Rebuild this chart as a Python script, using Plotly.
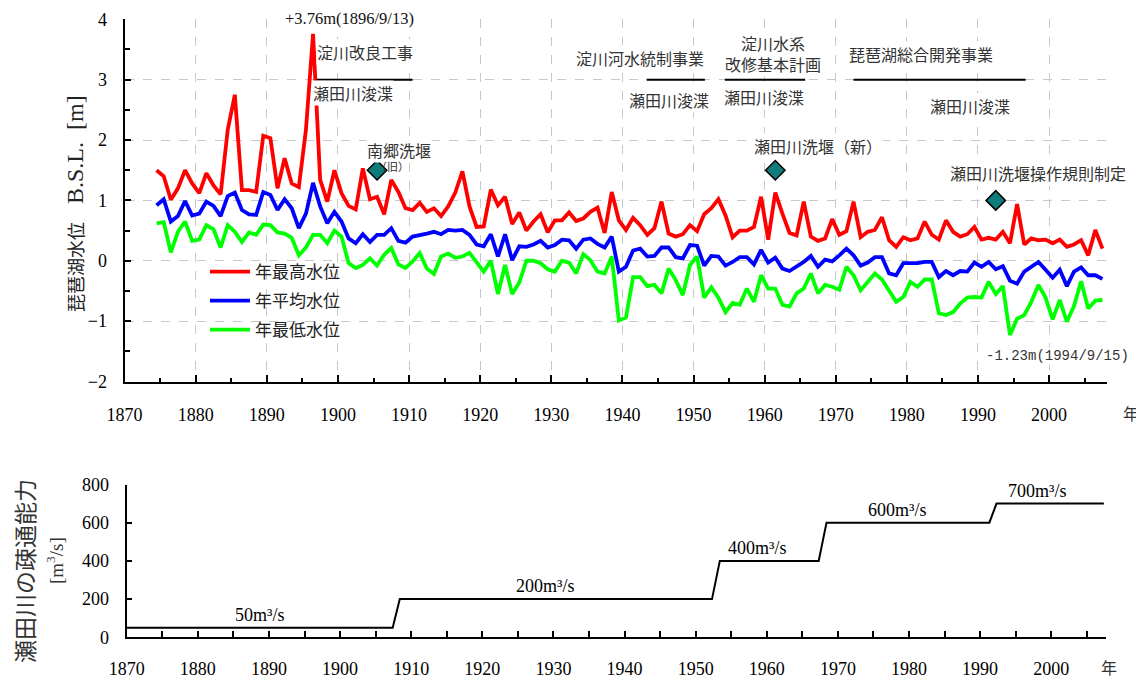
import plotly.graph_objects as go

W, H = 1144, 677
OFF = 8                      # body margin of the html page
FW, FH = W - OFF, H - OFF

# ---- data ----
years = list(range(1874, 2008))

high = [1.50, 1.40, 1.01, 1.20, 1.50, 1.28, 1.12, 1.45, 1.25, 1.10,
        2.17, 2.75, 1.17, 1.17, 1.14, 2.07, 2.03, 1.20, 1.70, 1.28,
        1.22, 2.17, 3.76, 1.34, 0.98, 1.50, 1.12, 0.91, 0.85, 1.53,
        1.02, 1.06, 0.77, 1.34, 1.14, 0.87, 0.84, 0.96, 0.81, 0.87,
        0.74, 0.90, 1.13, 1.48, 0.90, 0.56, 0.57, 1.18, 0.92, 1.06,
        0.61, 0.80, 0.50, 0.65, 0.77, 0.47, 0.67, 0.67, 0.80, 0.66,
        0.70, 0.81, 0.88, 0.46, 1.14, 0.67, 0.51, 0.71, 0.59, 0.43,
        0.54, 0.98, 0.45, 0.40, 0.44, 0.59, 0.49, 0.77, 0.87, 1.02,
        0.75, 0.39, 0.50, 0.50, 0.56, 1.06, 0.35, 1.13, 0.78, 0.46,
        0.42, 0.98, 0.40, 0.33, 0.37, 0.69, 0.43, 0.49, 0.98, 0.39,
        0.48, 0.51, 0.72, 0.34, 0.23, 0.39, 0.34, 0.37, 0.65, 0.43,
        0.35, 0.67, 0.48, 0.40, 0.44, 0.56, 0.35, 0.38, 0.35, 0.48,
        0.29, 0.94, 0.27, 0.37, 0.34, 0.35, 0.29, 0.35, 0.23, 0.27,
        0.34, 0.09, 0.51, 0.20]

mean = [0.92, 1.02, 0.65, 0.74, 0.99, 0.75, 0.78, 0.98, 0.91, 0.74,
        1.07, 1.13, 0.84, 0.77, 0.76, 1.14, 1.09, 0.84, 1.02, 0.87,
        0.54, 0.78, 1.29, 0.90, 0.62, 0.81, 0.65, 0.37, 0.29, 0.44,
        0.31, 0.43, 0.43, 0.54, 0.33, 0.30, 0.40, 0.42, 0.45, 0.48,
        0.44, 0.51, 0.50, 0.51, 0.43, 0.27, 0.24, 0.44, 0.07, 0.44,
        0.01, 0.24, 0.23, 0.27, 0.33, 0.22, 0.26, 0.35, 0.34, 0.20,
        0.35, 0.37, 0.28, 0.22, 0.40, -0.18, -0.10, 0.17, 0.20, 0.07,
        0.08, 0.22, 0.22, 0.06, 0.04, 0.26, 0.25, -0.08, 0.08, 0.07,
        -0.08, -0.02, 0.06, 0.06, -0.06, 0.18, -0.03, 0.05, -0.13, -0.17,
        -0.10, -0.02, 0.08, -0.10, 0.02, -0.01, 0.09, 0.20, 0.09, -0.08,
        -0.03, 0.06, 0.06, -0.21, -0.24, -0.04, -0.04, -0.04, -0.02, -0.02,
        -0.27, -0.17, -0.24, -0.17, -0.18, -0.03, -0.10, -0.02, -0.14, -0.09,
        -0.33, -0.38, -0.18, -0.10, -0.02, -0.15, -0.28, -0.15, -0.42, -0.18,
        -0.11, -0.24, -0.24, -0.30]

low = [0.62, 0.64, 0.14, 0.48, 0.65, 0.33, 0.35, 0.59, 0.52, 0.22,
       0.59, 0.48, 0.31, 0.47, 0.43, 0.60, 0.59, 0.47, 0.45, 0.38,
       0.09, 0.22, 0.43, 0.43, 0.29, 0.50, 0.40, -0.04, -0.12, -0.07,
       0.04, -0.08, 0.10, 0.21, -0.06, -0.12, -0.01, 0.13, -0.13, -0.22,
       0.07, 0.12, 0.05, 0.07, 0.13, -0.03, -0.18, 0.00, -0.55, -0.07,
       -0.55, -0.36, 0.00, 0.00, -0.04, -0.14, -0.18, 0.00, -0.03, -0.21,
       0.11, 0.01, -0.18, -0.21, 0.07, -0.99, -0.94, -0.27, -0.27, -0.42,
       -0.40, -0.54, -0.13, -0.32, -0.57, -0.07, 0.07, -0.61, -0.44, -0.61,
       -0.85, -0.70, -0.73, -0.46, -0.68, -0.24, -0.46, -0.46, -0.73, -0.76,
       -0.54, -0.46, -0.21, -0.54, -0.40, -0.43, -0.48, -0.10, -0.24, -0.49,
       -0.35, -0.21, -0.31, -0.51, -0.68, -0.60, -0.35, -0.43, -0.31, -0.31,
       -0.87, -0.90, -0.85, -0.71, -0.61, -0.60, -0.61, -0.35, -0.55, -0.42,
       -1.23, -0.96, -0.90, -0.68, -0.40, -0.61, -0.97, -0.65, -1.01, -0.75,
       -0.34, -0.79, -0.66, -0.65]

# weir events (year, level where the marker sits)
event_years = [1905, 1961, 1992]
event_levels = [1.5, 1.5, 1.0]

# project periods drawn as bars at 3.0 m
project_start = [1897.0, 1943.4, 1954.4, 1972.5]
project_end = [1910.5, 1951.6, 1965.7, 1996.7]
project_level = 3.0

# discharge capacity of the Seta river (step line)
cap_years = [1870, 1907.4, 1908.4, 1952.3, 1953.4, 1967.3, 1968.4, 1991.3, 1992.3, 2007.4]
cap_values = [50, 50, 200, 200, 400, 400, 600, 600, 700, 700]
cap_labels = ["50m³/s", "200m³/s", "400m³/s", "600m³/s", "700m³/s"]

# values are yearly, drawn at mid-year
xs = [y + 0.5 for y in years]

SERIF = "Liberation Serif, Noto Sans CJK JP"
JP = "Noto Sans CJK JP"


def fx(x):
    return (x - OFF) / FW


def fy(y):
    return 1 - (y - OFF) / FH


fig = go.Figure()

fig.add_trace(go.Scatter(x=xs, y=high, mode="lines", name="年最高水位",
                         line=dict(color="#ff0000", width=3.8), legend="legend"))
fig.add_trace(go.Scatter(x=xs, y=mean, mode="lines", name="年平均水位",
                         line=dict(color="#0000ff", width=3.8), legend="legend2"))
fig.add_trace(go.Scatter(x=xs, y=low, mode="lines", name="年最低水位",
                         line=dict(color="#00ff00", width=3.8), legend="legend3"))

for s, e in zip(project_start, project_end):
    fig.add_trace(go.Scatter(x=[s, e], y=[project_level, project_level], mode="lines",
                             line=dict(color="black", width=2), showlegend=False))

fig.add_trace(go.Scatter(x=[y + 0.5 for y in event_years], y=event_levels, mode="markers",
                         marker=dict(symbol="diamond", size=15, color="#0f7b7b",
                                     line=dict(color="black", width=1.5)),
                         showlegend=False))

fig.add_trace(go.Scatter(x=cap_years, y=cap_values, mode="lines",
                         line=dict(color="black", width=2), showlegend=False,
                         xaxis="x2", yaxis="y2"))

# ---- axes ----
axis_common = dict(showline=True, linecolor="black", linewidth=2, mirror=False,
                   ticks="inside", tickcolor="black", tickwidth=2,
                   tickfont=dict(family="Liberation Serif", size=18, color="black"),
                   zeroline=False)

fig.update_layout(
    width=FW, height=FH, template="none",
    paper_bgcolor="white", plot_bgcolor="white",
    margin=dict(l=0, r=0, t=0, b=0),
    xaxis=dict(domain=[fx(124.6), fx(1106.7)], range=[1870, 2008.1],
               tick0=1870, dtick=10, ticklen=7, showgrid=True,
               gridcolor="#c8c8c8", griddash="dash", gridwidth=1,
               minor=dict(dtick=5, tick0=1870, ticks="inside", ticklen=4,
                          tickcolor="black", tickwidth=2, showgrid=False),
               ticklabelstandoff=16, anchor="y", **axis_common),
    yaxis=dict(domain=[fy(381.5), fy(19.3)], range=[-2, 4],
               tick0=0, dtick=1, ticklen=6, showgrid=True,
               gridcolor="#c8c8c8", griddash="dash", gridwidth=1,
               minor=dict(dtick=0.5, ticks="inside", ticklen=5,
                          tickcolor="black", tickwidth=2, showgrid=False),
               ticklabelstandoff=12, anchor="x", **axis_common),
    xaxis2=dict(domain=[fx(126.7), fx(1106)], range=[1870, 2007.7],
                tick0=1870, dtick=10, ticklen=6, showgrid=False,
                minor=dict(dtick=5, tick0=1870, ticks="inside", ticklen=6,
                           tickcolor="black", tickwidth=2),
                ticklabelstandoff=14, anchor="y2", **axis_common),
    yaxis2=dict(domain=[fy(637.3), fy(484.5)], range=[0, 800],
                tick0=0, dtick=200, ticklen=5, showgrid=False,
                ticklabelstandoff=12, anchor="x2", **axis_common),
)

# one legend per entry so the spacing matches
leg_font = dict(family=JP, size=17, color="#222222")
for name, ytop in [("legend", 254), ("legend2", 283), ("legend3", 312)]:
    fig.update_layout({name: dict(x=fx(205), y=fy(ytop), xanchor="left", yanchor="top",
                                  bgcolor="rgba(0,0,0,0)", font=leg_font,
                                  itemwidth=40)})


def note(txt, x, y, family, size, bg="white", color="#333333", angle=0):
    fig.add_annotation(x=fx(x), y=fy(y), xref="paper", yref="paper", text=txt,
                       xanchor="center", yanchor="middle", showarrow=False,
                       bgcolor=bg, borderpad=0, textangle=angle,
                       font=dict(family=family, size=size, color=color))


# ---- text ----
note("+3.76m(1896/9/13)", 349, 18, SERIF, 16.5, color="#111111")
note("淀川改良工事", 365, 52, JP, 16)
note("瀬田川浚渫", 353, 93, JP, 16)
note("南郷洗堰", 399, 150, JP, 16)
note("淀川河水統制事業", 640, 58, JP, 16)
note("瀬田川浚渫", 669, 100, JP, 16)
note("淀川水系<br>改修基本計画", 773, 53.5, JP, 16)
note("瀬田川浚渫", 764, 97, JP, 16)
note("琵琶湖総合開発事業", 921, 54, JP, 16)
note("瀬田川浚渫", 970, 106, JP, 16)
note("瀬田川洗堰（新）", 818, 146, JP, 16)
note("瀬田川洗堰操作規則制定", 1038, 173, JP, 16)
note("-1.23m(1994/9/15)", 1057, 356, "Liberation Mono", 14)
note("（旧）", 392, 166, JP, 11, bg="rgba(0,0,0,0)")

# capacity labels sit just above each step
cap_label_x = [1888.7, 1928.8, 1958.6, 1978.3, 1998.0]
cap_label_y = [50, 200, 400, 600, 700]
for txt, x, y in zip(cap_labels, cap_label_x, cap_label_y):
    fig.add_annotation(x=x, y=y, xref="x2", yref="y2", text=txt, showarrow=False,
                       xanchor="center", yanchor="bottom", yshift=1,
                       font=dict(family="Liberation Serif", size=18, color="black"))

# axis titles
note('琵琶湖水位　<span style="font-size:24px">B.S.L.&nbsp;&nbsp;[m]</span>', 75, 204,
     SERIF, 18, bg="rgba(0,0,0,0)", color="#222222", angle=-90)
note("瀬田川の疎通能力", 24, 571, JP, 23, bg="rgba(0,0,0,0)", angle=-90)
note("[m<sup>3</sup>/s]", 55, 561, "Liberation Serif", 19, bg="rgba(0,0,0,0)", angle=-90)

note("年", 1131, 413, JP, 16, bg="rgba(0,0,0,0)")
note("年", 1109, 667, JP, 16, bg="rgba(0,0,0,0)")

fig.write_html("out.html")
